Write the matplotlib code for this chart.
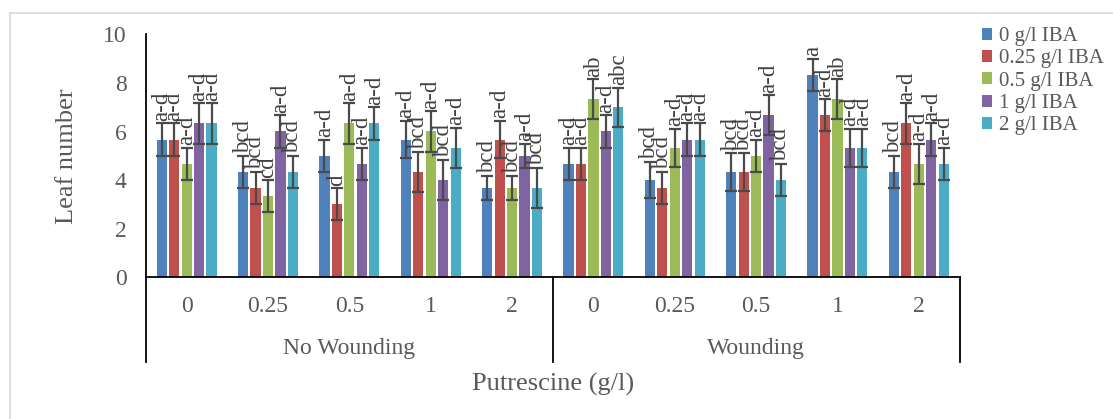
import matplotlib.pyplot as plt
from matplotlib.lines import Line2D
import numpy as np

plt.rcParams['font.family'] = ['Liberation Serif', 'DejaVu Serif']

# data
wounding = ['No Wounding', 'Wounding']
putrescine = ['0', '0.25', '0.5', '1', '2']
series = ['0 g/l IBA', '0.25 g/l IBA', '0.5 g/l IBA', '1 g/l IBA', '2 g/l IBA']

iba_0 = [5.67, 4.33, 5.00, 5.67, 3.67, 4.67, 4.00, 4.33, 8.33, 4.33]
iba_025 = [5.67, 3.67, 3.00, 4.33, 5.67, 4.67, 3.67, 4.33, 6.67, 6.33]
iba_05 = [4.67, 3.33, 6.33, 6.00, 3.67, 7.33, 5.33, 5.00, 7.33, 4.67]
iba_1 = [6.33, 6.00, 4.67, 4.00, 5.00, 6.00, 5.67, 6.67, 5.33, 5.67]
iba_2 = [6.33, 4.33, 6.33, 5.33, 3.67, 7.00, 5.67, 4.00, 5.33, 4.67]

err_0 = [0.67, 0.67, 0.67, 0.78, 0.50, 0.67, 0.75, 0.78, 0.67, 0.67]
err_025 = [0.67, 0.67, 0.67, 0.83, 0.78, 0.67, 0.67, 0.78, 0.67, 0.83]
err_05 = [0.67, 0.67, 0.83, 0.83, 0.50, 0.83, 0.78, 0.67, 0.83, 0.83]
err_1 = [0.83, 0.67, 0.67, 0.83, 0.50, 0.67, 0.67, 0.83, 0.78, 0.67]
err_2 = [0.83, 0.67, 0.67, 0.83, 0.83, 0.80, 0.67, 0.67, 0.78, 0.67]

let_0 = ['a-d', 'bcd', 'a-d', 'a-d', 'bcd', 'a-d', 'bcd', 'bcd', 'a', 'bcd']
let_025 = ['a-d', 'bcd', 'd', 'bcd', 'a-d', 'a-d', 'bcd', 'bcd', 'a-d', 'a-d']
let_05 = ['a-d', 'cd', 'a-d', 'a-d', 'bcd', 'ab', 'a-d', 'a-d', 'ab', 'a-d']
let_1 = ['a-d', 'a-d', 'a-d', 'bcd', 'a-d', 'a-d', 'a-d', 'a-d', 'a-d', 'a-d']
let_2 = ['a-d', 'bcd', 'a-d', 'a-d', 'bcd', 'abc', 'a-d', 'bcd', 'a-d', 'a-d']

values = [iba_0, iba_025, iba_05, iba_1, iba_2]
errors = [err_0, err_025, err_05, err_1, err_2]
letters = [let_0, let_025, let_05, let_1, let_2]
colors = ['#4F81BD', '#C0504D', '#9BBB59', '#8064A2', '#4BACC6']

fig = plt.figure(figsize=(11.13, 4.19), dpi=100)
ax = fig.add_axes([146 / 1113, 1 - 277 / 419, (959.5 - 146) / 1113, (277 - 34.5) / 419])

# light chart-area border (runs off the right and bottom edges)
fig.add_artist(Line2D([9.5 / 1113, 1.0], [1 - 13.3 / 419] * 2, color='#d9d9d9', lw=1.2))
fig.add_artist(Line2D([9.5 / 1113] * 2, [0.0, 1 - 13.3 / 419], color='#d9d9d9', lw=1.2))

x = np.arange(len(iba_0))
step = 0.153
width = 0.125
for i, (vals, errs, labs) in enumerate(zip(values, errors, letters)):
    pos = x + (i - 2) * step
    ax.bar(pos, vals, width, color=colors[i], label=series[i], zorder=2)
    ax.errorbar(pos, vals, yerr=errs, fmt='none', ecolor='#4a4a4a', elinewidth=1.6,
                capsize=4, capthick=1.6, zorder=3)
    # letters sit just above the error bar top
    for p, v, e, t in zip(pos, vals, errs, labs):
        ax.text(p, v + e + 0.1, t, rotation=90, ha='center', va='bottom',
                fontsize=16.5, color='#404040', zorder=4)

ax.set_xlim(-0.5, 9.5)
ax.set_ylim(0, 10)
ax.set_yticks([0, 2, 4, 6, 8, 10])
ax.tick_params(axis='y', length=0, pad=14, labelsize=17, labelcolor='#595959')
ax.set_xticks([])
for s in ['top', 'right']:
    ax.spines[s].set_visible(False)
for s in ['left', 'bottom']:
    ax.spines[s].set_color('black')
    ax.spines[s].set_linewidth(1.3)
ax.set_ylabel('Leaf number', fontsize=19, color='#595959', labelpad=18)

# two-level category axis
tr = ax.get_xaxis_transform()
for k in range(len(x)):
    ax.text(x[k], -0.12, putrescine[k % 5], transform=tr, ha='center', va='center',
            fontsize=17, color='#595959')
for g, name in enumerate(wounding):
    ax.text(2 + 5 * g, -0.295, name, transform=tr, ha='center', va='center',
            fontsize=17, color='#595959')
for xv in [-0.5, 4.5, 9.5]:
    ax.plot([xv, xv], [0, -0.349], transform=tr, color='black', lw=1.3, clip_on=False)

fig.text((146 + 959.5) / 2 / 1113, 1 - 384 / 419, 'Putrescine (g/l)', ha='center', va='center',
         fontsize=19, color='#595959')

leg = ax.legend(loc='upper left', bbox_to_anchor=(982 / 1113, 1 - 27 / 419),
                bbox_transform=fig.transFigure, frameon=False, fontsize=15,
                handlelength=0.5, handleheight=0.5, handletextpad=0.3,
                labelspacing=0.16, borderpad=0, borderaxespad=0)
for t in leg.get_texts():
    t.set_color('#595959')

fig.savefig('out.png', dpi=100)
